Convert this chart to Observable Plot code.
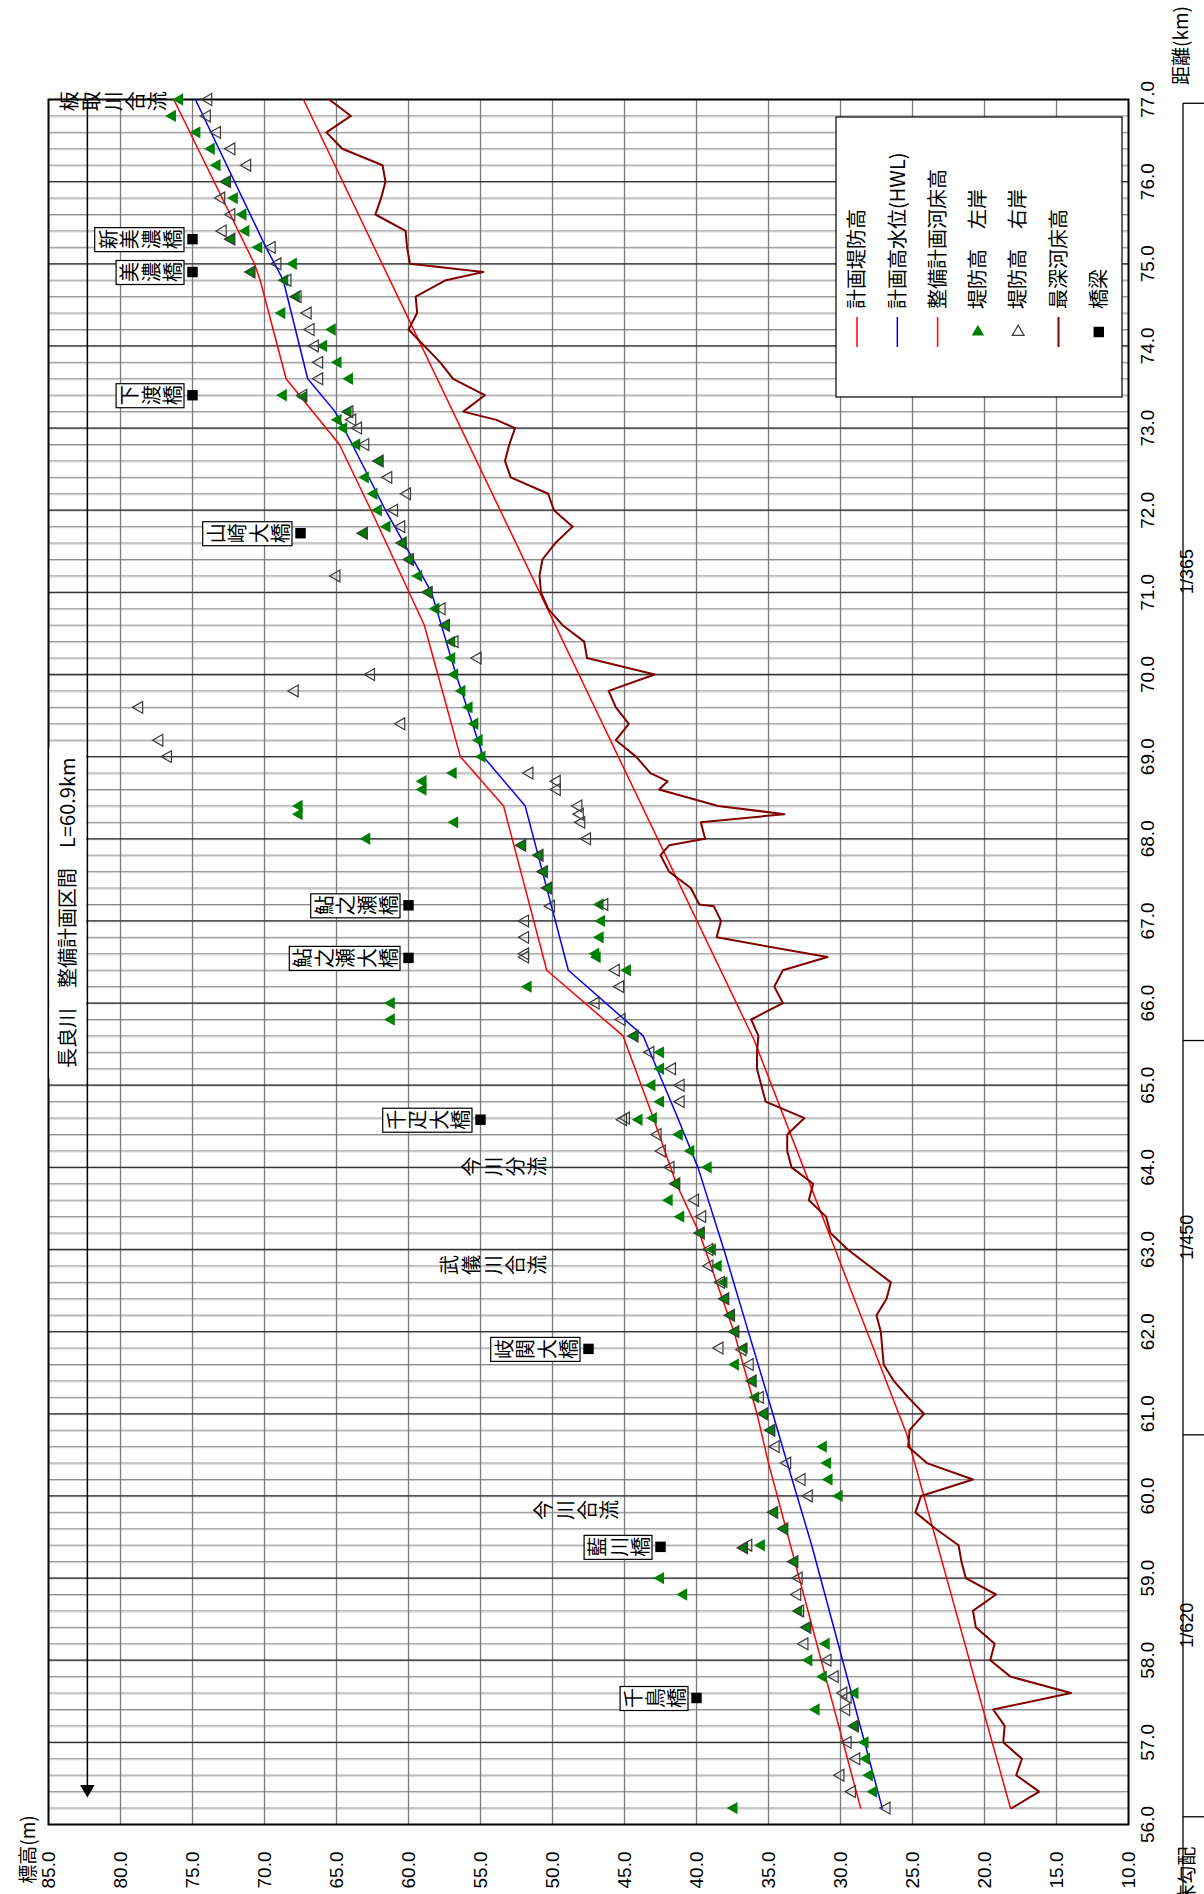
<!DOCTYPE html>
<html lang="ja">
<head>
<meta charset="utf-8">
<title>長良川 縦断図</title>
<script src="https://cdn.jsdelivr.net/npm/d3@7"></script>
<script src="https://cdn.jsdelivr.net/npm/@observablehq/plot@0.6"></script>
<style>
  html, body { margin: 0; padding: 0; background: #fff; }
  body { width: 1204px; height: 1894px; position: relative; overflow: hidden; }
</style>
</head>
<body>
<div id="chart"></div>
<script>
// ---------------- DATA ----------------
const kmTicks = [56,57,58,59,60,61,62,63,64,65,66,67,68,69,70,71,72,73,74,75,76,77];
const elevTicks = [10,15,20,25,30,35,40,45,50,55,60,65,70,75,80,85];

// 堤防高 左岸 [km, m]
const leftBank = [[56.2,37.4],[56.4,27.7],[56.6,28.0],[56.8,28.2],[57.0,28.3],[57.2,29.0],[57.4,31.7],[57.6,29.0],[57.8,31.2],[58.0,32.2],[58.2,31.0],[58.4,32.3],[58.6,32.9],[58.8,40.9],[59.0,42.5],[59.2,33.2],[59.37,36.7],[59.4,35.5],[59.6,33.9],[59.8,34.6],[60.0,30.1],[60.2,30.8],[60.4,30.9],[60.6,31.2],[60.8,34.8],[61.0,35.3],[61.2,35.9],[61.4,36.1],[61.6,37.3],[61.8,36.7],[62.0,37.3],[62.2,37.6],[62.4,38.0],[62.6,38.1],[62.8,38.5],[63.0,38.9],[63.2,39.7],[63.4,41.1],[63.6,41.9],[63.8,41.4],[64.0,39.2],[64.2,40.4],[64.4,41.2],[64.58,44.0],[64.6,43.0],[64.8,42.5],[65.0,43.1],[65.2,42.5],[65.4,42.5],[65.6,44.3],[65.8,61.2],[66.0,61.2],[66.2,51.7],[66.4,44.8],[66.56,46.9],[66.6,47.0],[66.8,46.7],[67.0,46.6],[67.2,46.7],[67.4,50.3],[67.6,50.6],[67.8,50.9],[67.92,52.1],[68.0,62.9],[68.2,56.8],[68.3,67.6],[68.4,67.6],[68.6,59.0],[68.7,59.0],[68.8,56.9],[69.0,54.9],[69.2,55.1],[69.4,55.4],[69.6,55.8],[69.8,56.3],[70.0,56.8],[70.2,57.0],[70.4,57.0],[70.6,57.4],[70.8,58.1],[71.0,58.6],[71.2,59.3],[71.4,59.9],[71.6,60.4],[71.72,63.1],[71.8,61.5],[72.0,62.1],[72.2,62.4],[72.4,63.0],[72.6,62.0],[72.8,63.6],[73.0,64.5],[73.1,64.9],[73.2,64.2],[73.38,67.3],[73.4,68.7],[73.6,64.1],[73.8,64.9],[74.0,65.9],[74.2,65.3],[74.4,68.8],[74.6,67.8],[74.8,68.6],[74.9,70.9],[75.0,68.0],[75.2,70.4],[75.3,72.3],[75.4,71.3],[75.6,71.5],[75.8,72.1],[76.0,72.6],[76.2,73.3],[76.4,73.7],[76.6,74.7],[76.8,76.4],[77.0,75.9]];

// 堤防高 右岸 [km, m]
const rightBank = [[56.2,26.8],[56.4,29.2],[56.6,30.0],[56.8,28.9],[57.0,29.5],[57.2,29.0],[57.4,29.6],[57.55,29.5],[57.6,29.8],[57.8,30.4],[58.0,30.9],[58.2,32.5],[58.4,32.3],[58.6,32.8],[58.8,33.0],[59.0,32.9],[59.2,33.2],[59.37,36.7],[59.4,36.4],[59.6,33.9],[59.8,34.6],[60.0,32.2],[60.2,32.7],[60.4,33.7],[60.6,34.5],[60.8,34.8],[61.0,35.3],[61.2,35.6],[61.4,36.1],[61.6,36.3],[61.78,36.8],[61.8,38.4],[62.0,37.3],[62.2,37.6],[62.4,38.0],[62.6,38.3],[62.8,39.1],[63.0,39.1],[63.2,39.7],[63.4,39.6],[63.6,40.1],[63.8,41.4],[64.0,41.8],[64.2,42.4],[64.4,42.7],[64.58,45.1],[64.6,44.9],[64.8,41.1],[65.0,41.1],[65.2,41.7],[65.4,43.2],[65.6,44.3],[65.8,45.2],[66.0,47.0],[66.2,45.3],[66.4,45.6],[66.56,51.9],[66.6,51.9],[66.8,51.9],[67.0,51.9],[67.18,50.1],[67.2,46.4],[67.4,50.3],[67.6,50.6],[67.8,50.9],[67.92,52.1],[68.0,47.6],[68.2,48.0],[68.3,48.1],[68.4,48.2],[68.6,49.7],[68.7,49.7],[68.8,51.6],[69.0,76.7],[69.2,77.3],[69.4,60.5],[69.6,78.7],[69.8,67.9],[70.0,62.6],[70.2,55.2],[70.4,56.8],[70.6,57.4],[70.8,57.7],[71.0,58.6],[71.2,65.0],[71.4,59.9],[71.6,60.4],[71.72,63.1],[71.8,60.5],[72.0,61.0],[72.2,60.1],[72.4,61.4],[72.6,62.0],[72.8,63.0],[73.0,63.5],[73.1,63.9],[73.2,64.1],[73.4,67.3],[73.6,66.2],[73.8,66.2],[74.0,66.5],[74.2,66.8],[74.4,67.0],[74.6,67.7],[74.8,68.4],[74.9,70.9],[75.0,69.1],[75.2,69.5],[75.3,72.3],[75.4,72.9],[75.6,72.3],[75.8,73.0],[76.0,72.6],[76.2,71.2],[76.4,72.3],[76.6,73.3],[76.8,74.0],[77.0,73.9]];

// 最深河床高 [km, m]
const deepestBed = [[56.2,18.1],[56.4,16.2],[56.6,17.8],[56.8,17.4],[57.0,18.7],[57.2,18.6],[57.4,19.4],[57.6,14.0],[57.8,18.2],[58.0,19.6],[58.2,19.3],[58.4,20.6],[58.6,20.8],[58.8,19.2],[59.0,21.3],[59.2,21.6],[59.4,21.8],[59.6,23.4],[59.8,24.8],[60.0,24.4],[60.2,20.8],[60.4,24.0],[60.6,25.3],[60.8,25.2],[61.0,24.2],[61.2,25.3],[61.4,26.3],[61.6,27.0],[61.8,27.1],[62.0,27.2],[62.2,27.5],[62.4,26.8],[62.6,26.5],[62.8,28.0],[63.0,29.5],[63.2,30.7],[63.4,31.0],[63.6,32.2],[63.8,31.9],[64.0,33.4],[64.2,33.7],[64.4,33.7],[64.6,32.5],[64.8,35.2],[65.0,35.5],[65.2,35.8],[65.4,35.8],[65.6,35.7],[65.8,36.2],[66.0,34.0],[66.2,34.6],[66.4,34.0],[66.56,30.9],[66.8,38.6],[67.0,38.3],[67.18,38.8],[67.2,39.8],[67.4,40.4],[67.6,41.9],[67.8,42.5],[67.92,41.9],[68.0,39.4],[68.2,39.7],[68.3,33.9],[68.4,38.5],[68.6,42.6],[68.7,42.0],[68.8,43.2],[69.0,44.2],[69.2,45.6],[69.4,44.7],[69.6,45.6],[69.8,46.1],[70.0,42.9],[70.2,47.6],[70.4,47.8],[70.6,49.3],[70.8,50.3],[71.0,50.8],[71.2,50.9],[71.4,50.7],[71.6,49.8],[71.8,48.6],[72.0,49.9],[72.2,50.3],[72.4,52.9],[72.6,53.3],[72.8,53.0],[73.0,52.6],[73.1,53.9],[73.2,56.2],[73.4,54.7],[73.6,56.9],[73.8,57.8],[74.0,58.9],[74.2,60.0],[74.4,59.4],[74.6,59.5],[74.8,57.4],[74.9,54.8],[75.0,59.9],[75.2,60.1],[75.4,60.2],[75.6,62.3],[75.8,61.9],[76.0,61.6],[76.2,61.8],[76.4,64.6],[76.6,65.7],[76.8,64.0],[77.0,65.5]];

// 計画堤防高 [km, m]
const plannedLevee = [[56.2,28.6],[60.4,35.0],[61.0,35.8],[62.0,37.4],[63.2,39.8],[63.8,41.4],[64.6,43.0],[65.6,45.1],[66.4,50.4],[68.4,53.4],[69.0,56.4],[70.6,58.9],[72.0,62.6],[72.8,64.8],[73.6,68.5],[74.8,70.3],[75.0,70.7],[77.0,76.3]];

// 計画高水位(HWL) [km, m]
const hwl = [[56.2,27.1],[59.4,32.0],[60.4,33.7],[61.0,34.7],[62.0,36.4],[63.0,38.1],[64.0,39.9],[64.6,41.3],[65.6,43.7],[66.4,48.9],[68.4,51.9],[69.0,54.8],[70.0,56.7],[71.0,58.4],[72.0,61.6],[72.8,63.9],[73.2,65.1],[73.6,67.0],[74.8,68.7],[75.2,69.9],[77.0,74.8]];

// 整備計画河床高 [km, m]
const plannedBed = [[56.2,18.2],[60.75,25.4],[65.55,36.0],[77.0,67.3]];

// 橋梁
const bridges = [
  {name: "新美濃橋", km: 75.3, elev: 75.0},
  {name: "美濃橋", km: 74.9, elev: 75.0},
  {name: "下渡橋", km: 73.4, elev: 75.0},
  {name: "山崎大橋", km: 71.72, elev: 67.5},
  {name: "鮎之瀬橋", km: 67.19, elev: 60.0},
  {name: "鮎之瀬大橋", km: 66.55, elev: 60.0},
  {name: "千疋大橋", km: 64.58, elev: 55.0},
  {name: "岐関大橋", km: 61.79, elev: 47.5},
  {name: "藍川橋", km: 59.38, elev: 42.5},
  {name: "千鳥橋", km: 57.54, elev: 40.0}
];

// 合流・分流の注記
const notes = [
  {text: "板取川合流", km: 76.98, elev: 76.9},
  {text: "今川分流", km: 64.01, elev: 50.5},
  {text: "武儀川合流", km: 62.81, elev: 50.5},
  {text: "今川合流", km: 59.83, elev: 45.5}
];

// 整備計画区間
const section = {text: "長良川　整備計画区間　L=60.9km", km: 67.10, elev: 83.6, fromKm: 77.0, toKm: 56.43, arrowElev: 82.3};

// 計画河床勾配
const gradients = [
  {from: 56.1, to: 60.75, label: "1/620"},
  {from: 60.75, to: 65.55, label: "1/450"},
  {from: 65.55, to: 76.96, label: "1/365"}
];

const legendItems = [
  {label: "計画堤防高", kind: "line", color: "#ff0000"},
  {label: "計画高水位(HWL)", kind: "line", color: "#0000ff"},
  {label: "整備計画河床高", kind: "line", color: "#ff0000"},
  {label: "堤防高　左岸", kind: "triFill"},
  {label: "堤防高　右岸", kind: "triOpen"},
  {label: "最深河床高", kind: "line", color: "#800000"},
  {label: "橋梁", kind: "square"}
];

// ---------------- CHART ----------------
const FONT_JP = "'Noto Sans CJK JP', 'Noto Sans', sans-serif";
const FONT_NUM = "'Liberation Sans', Arial, sans-serif";
const minorKm = d3.range(56.2, 76.99, 0.2);
const stack = s => s.split("").join("\n");

// left-pointing triangle symbol (arrow head)
const triLeft = {
  draw(ctx, size) {
    const y = -Math.sqrt(size / (Math.sqrt(3) * 3));
    ctx.moveTo(2 * y, 0);
    ctx.lineTo(-y, -Math.sqrt(3) * y);
    ctx.lineTo(-y, Math.sqrt(3) * y);
    ctx.closePath();
  }
};
// right-pointing triangle path (legend)
function triRightPath(r) {
  const y = Math.sqrt(Math.PI * r * r / (Math.sqrt(3) * 3));
  return `M${2 * y},0L${-y},${-Math.sqrt(3) * y}L${-y},${Math.sqrt(3) * y}Z`;
}

const chart = Plot.plot({
  width: 1894,
  height: 1204,
  marginLeft: 69,
  marginRight: 100,
  marginTop: 48,
  marginBottom: 76,
  x: {domain: [56, 77], axis: null},
  y: {domain: [10, 85], axis: null},
  style: {fontFamily: FONT_NUM, background: "white", overflow: "visible"},
  marks: [
    Plot.ruleX(minorKm, {stroke: "#8c8c8c", strokeWidth: 1}),
    Plot.ruleX(minorKm, {stroke: "#cfcfcf", strokeWidth: 1, dx: -1}),
    Plot.ruleY(elevTicks.slice(1, -1), {stroke: "#7a7a7a", strokeWidth: 1.3}),
    Plot.ruleX(kmTicks.slice(1, -1), {stroke: "#333", strokeWidth: 1.3}),
    Plot.frame({stroke: "#000", strokeWidth: 2}),
    // section arrow
    Plot.ruleY([section], {y: "arrowElev", x1: "fromKm", x2: "toKm", stroke: "#000", strokeWidth: 1.5}),
    Plot.dot([section], {x: "toKm", y: "arrowElev", symbol: triLeft, r: 5.4, fill: "#000", stroke: "none"}),
    // lines
    Plot.line(plannedBed, {x: d => d[0], y: d => d[1], stroke: "#ff0000", strokeWidth: 1.5}),
    Plot.line(deepestBed, {x: d => d[0], y: d => d[1], stroke: "#800000", strokeWidth: 2}),
    Plot.line(plannedLevee, {x: d => d[0], y: d => d[1], stroke: "#ff0000", strokeWidth: 1.5}),
    Plot.line(hwl, {x: d => d[0], y: d => d[1], stroke: "#0000ff", strokeWidth: 1.5}),
    // bank heights
    Plot.dot(leftBank, {x: d => d[0], y: d => d[1], symbol: "triangle", r: 4.6, fill: "#008000", stroke: "none"}),
    Plot.dot(rightBank, {x: d => d[0], y: d => d[1], symbol: "triangle", r: 4.4, fill: "none", stroke: "#3a3a3a", strokeWidth: 1.2}),
    // bridges
    Plot.dot(bridges, {x: "km", y: "elev", symbol: "square", r: 5.9, fill: "#000", stroke: "none"}),
    Plot.text(bridges, {x: "km", y: "elev", text: d => stack(d.name), lineAnchor: "bottom", lineHeight: 1.07, dy: -12.5, fontSize: 20, fontFamily: FONT_JP, fill: "#000"}),
    // notes
    Plot.text(notes, {x: "km", y: "elev", text: d => stack(d.text), lineAnchor: "bottom", lineHeight: 1.1, fontSize: 20, fontFamily: FONT_JP, fill: "#000"}),
    // section label
    Plot.text([section], {x: "km", y: "elev", text: "text", fontSize: 20, fontFamily: FONT_JP, fill: "#000"}),
    // tick labels
    Plot.text(kmTicks, {x: d => d, frameAnchor: "bottom", dy: 25, text: d => d.toFixed(1), fontSize: 19, fill: "#000"}),
    Plot.text(elevTicks, {y: d => d, frameAnchor: "left", textAnchor: "end", dx: -27, text: d => d.toFixed(1), fontSize: 19, fill: "#000"}),
    // axis titles
    Plot.text(["標高(m)"], {frameAnchor: "top-left", textAnchor: "middle", dx: -25, dy: -27, fontSize: 19, fontFamily: FONT_JP, fill: "#000"}),
    Plot.text(["距離(km)"], {frameAnchor: "bottom-right", textAnchor: "middle", dx: 54, dy: 59, fontSize: 19, fontFamily: FONT_JP, fill: "#000"}),
    // gradient table labels
    Plot.text(gradients, {x: d => (d.from + d.to) / 2, frameAnchor: "bottom", dy: 64, text: "label", fontSize: 18, fill: "#000"}),
    Plot.text(["計画河床勾配"], {frameAnchor: "bottom-left", dx: -22, dy: 65, textAnchor: "end", fontSize: 19, fontFamily: FONT_JP, fill: "#000"})
  ]
});

chart.style.cssText += ";max-width:none;width:1894px;height:1204px;position:absolute;left:0;top:0;transform-origin:0 0;transform:translate(0px,1894px) rotate(-90deg);";
document.getElementById("chart").appendChild(chart);

const xs = chart.scale("x"), ys = chart.scale("y");
const X = v => xs.apply(v), Y = v => ys.apply(v);
const svg = d3.select(chart);

// find the top-level mark group whose first text matches
function findGroup(str) {
  for (const g of chart.children) {
    if (g.tagName.toLowerCase() !== "g") continue;
    const t = g.querySelector("text");
    if (t && t.textContent === str) return g;
  }
  return null;
}

// boxes around bridge names (inserted beneath the names)
{
  const bg = findGroup(bridges[0].name);
  bridges.forEach(b => {
    const n = b.name.length, fs = 20, lh = 1.07 * fs;
    const px = X(b.km), py = Y(b.elev);
    const top = py - 12.5 - (n - 1) * lh - 0.88 * fs - 3;
    const bottom = py - 8;
    const r = document.createElementNS("http://www.w3.org/2000/svg", "rect");
    r.setAttribute("x", px - 12); r.setAttribute("y", top);
    r.setAttribute("width", 24); r.setAttribute("height", bottom - top);
    r.setAttribute("fill", "#fff"); r.setAttribute("stroke", "#000"); r.setAttribute("stroke-width", 1.2);
    if (bg) chart.insertBefore(r, bg); else chart.appendChild(r);
  });
}

// white background behind the section label
{
  const sg = findGroup(section.text);
  const t = sg ? sg.querySelector("text") : null;
  const w = t ? t.getBBox().width : 300;
  const r = document.createElementNS("http://www.w3.org/2000/svg", "rect");
  r.setAttribute("x", X(section.km) - w / 2 - 10); r.setAttribute("width", w + 20);
  r.setAttribute("y", Y(85) + 1.2); r.setAttribute("height", Y(section.arrowElev) - Y(85) - 2);
  r.setAttribute("fill", "#fff");
  if (sg) chart.insertBefore(r, sg);
}

// gradient table frame
{
  const g = svg.append("g").attr("stroke", "#000").attr("stroke-width", 1.3);
  const ty = Y(10) + 55;
  g.append("line").attr("x1", 0).attr("x2", X(gradients[gradients.length - 1].to)).attr("y1", ty).attr("y2", ty);
  const breaks = [gradients[0].from, ...gradients.map(d => d.to)];
  breaks.forEach(k => g.append("line").attr("x1", X(k)).attr("x2", X(k)).attr("y1", ty).attr("y2", 1204));
}

// legend
{
  const right = X(77) - 17, bottom = Y(10) - 6;
  const w = 280, h = 286, left = right - w, top = bottom - h;
  const lg = svg.append("g").attr("font-family", FONT_JP).attr("font-size", 20).attr("text-anchor", "start");
  lg.append("rect").attr("x", left).attr("y", top).attr("width", w).attr("height", h)
    .attr("fill", "#fff").attr("stroke", "#000").attr("stroke-width", 1.2);
  const sx = left + 65, tx = left + 88;
  legendItems.forEach((it, i) => {
    const cy = top + 21 + i * 40.3;
    if (it.kind === "line") {
      lg.append("line").attr("x1", sx - 15).attr("x2", sx + 15).attr("y1", cy).attr("y2", cy)
        .attr("stroke", it.color).attr("stroke-width", it.color === "#800000" ? 2 : 1.5);
    } else if (it.kind === "square") {
      lg.append("path").attr("transform", `translate(${sx},${cy})`)
        .attr("d", d3.symbol(d3.symbolSquare, Math.PI * 5.9 * 5.9)()).attr("fill", "#000");
    } else {
      const r = it.kind === "triFill" ? 4.6 : 4.4;
      const p = lg.append("path").attr("transform", `translate(${sx},${cy})`).attr("d", triRightPath(r));
      if (it.kind === "triFill") p.attr("fill", "#008000");
      else p.attr("fill", "none").attr("stroke", "#3a3a3a").attr("stroke-width", 1.2);
    }
    lg.append("text").attr("x", tx).attr("y", cy).attr("dy", "0.36em").attr("fill", "#000").text(it.label);
  });
}
</script>
</body>
</html>
